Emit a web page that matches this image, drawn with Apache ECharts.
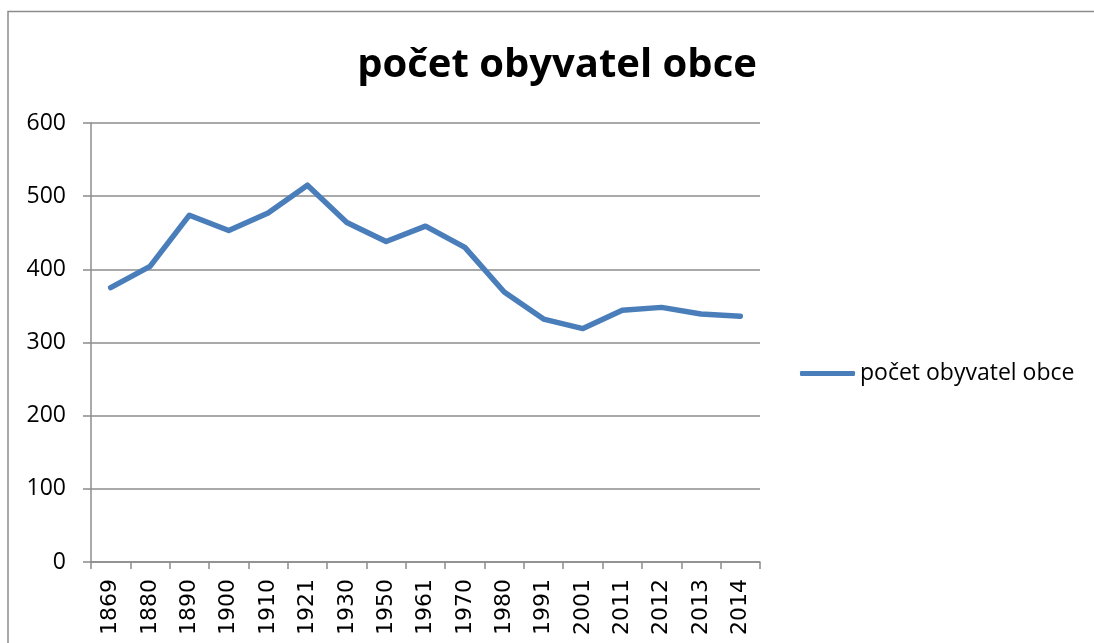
<!DOCTYPE html>
<html><head><meta charset="utf-8">
<script src="https://cdn.jsdelivr.net/npm/echarts@6/dist/echarts.min.js"></script>
<style>html,body{margin:0;padding:0;background:#fff}#c{width:1094px;height:643px}</style>
</head><body><div id="c"></div>
<script>
const years = ['1869','1880','1890','1900','1910','1921','1930','1950','1961','1970','1980','1991','2001','2011','2012','2013','2014'];
const population = [375, 404, 474, 453, 477, 515, 464, 438, 459, 430, 369, 332, 319, 344, 348, 339, 336];
const seriesName = 'počet obyvatel obce';
const titleText = 'počet obyvatel obce';

const chart = echarts.init(document.getElementById('c'), null, {renderer:'canvas'});
chart.setOption({
  animation: false,
  graphic: [{
    type: 'rect', shape: {x: 8, y: 11.5, width: 1200, height: 700},
    style: {fill: 'none', stroke: '#8c8c8c', lineWidth: 1.5}, silent: true
  }],
  title: {
    text: titleText, left: 552, top: 41, textAlign: 'center',
    textStyle: {fontFamily: 'Open Sans', fontWeight: 'bold', fontSize: 40, color: '#000'}
  },
  legend: {
    show: true, data: [{name: seriesName, icon: 'roundRect'}], left: 795, top: 357, orient: 'horizontal',
    padding: 5, itemWidth: 55, itemHeight: 5, itemGap: 4,
    textStyle: {fontFamily: 'Open Sans', fontSize: 23, color: '#000'}
  },
  grid: {left: 91, right: 334, top: 123, bottom: 81, containLabel: false},
  xAxis: {
    type: 'category', data: years, boundaryGap: true,
    axisLine: {lineStyle: {color: '#8c8c8c', width: 1.5}},
    axisTick: {show: true, length: 7, alignWithLabel: false, lineStyle: {color: '#8c8c8c', width: 1.5}},
    axisLabel: {rotate: 90, fontFamily: 'DejaVu Sans', fontSize: 22, color: '#000', margin: 17, interval: 0}
  },
  yAxis: {
    type: 'value', min: 0, max: 600, interval: 100,
    axisLine: {show: true, lineStyle: {color: '#8c8c8c', width: 1.5}},
    axisTick: {show: true, length: 8, lineStyle: {color: '#8c8c8c', width: 1.5}},
    splitLine: {lineStyle: {color: '#8c8c8c', width: 1.5}},
    axisLabel: {fontFamily: 'Open Sans', fontSize: 23, color: '#000', margin: 25}
  },
  series: [{
    name: seriesName, type: 'line', data: population,
    symbol: 'none', lineStyle: {color: '#4a7ebb', width: 5.5, cap: 'round', join: 'round'},
    itemStyle: {color: '#4a7ebb'}
  }]
});
</script></body></html>
